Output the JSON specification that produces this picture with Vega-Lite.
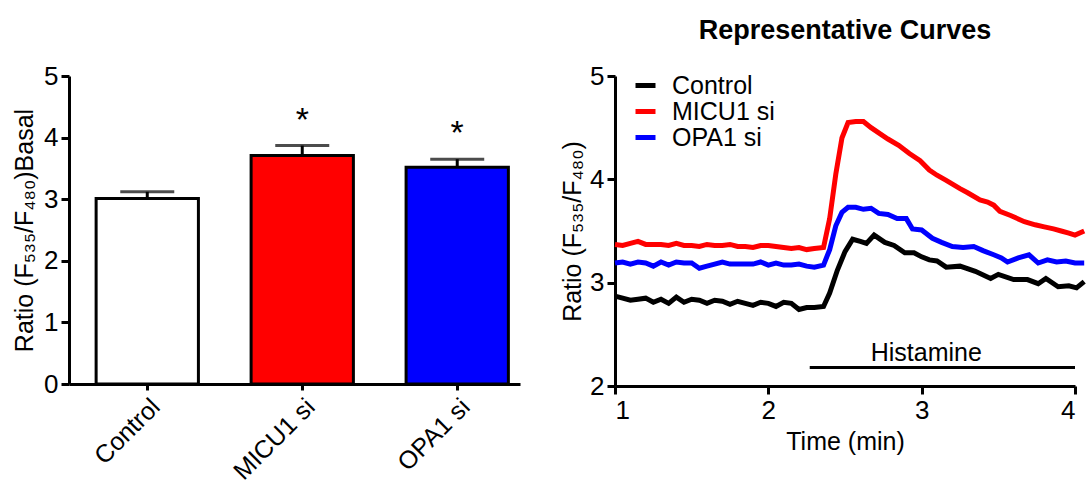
{
  "$schema": "https://vega.github.io/schema/vega-lite/v6.json",
  "background": "white",
  "padding": {"left": 12, "top": 17, "right": 5, "bottom": 2},
  "bounds": "flush",
  "spacing": 95,
  "resolve": {"scale": {"color": "independent", "fill": "independent"}, "legend": {"color": "independent", "fill": "independent"}},
  "config": {
    "font": "Liberation Sans",
    "view": {"stroke": null},
    "axis": {"domainColor": "black", "domainWidth": 3, "tickColor": "black", "tickWidth": 3, "tickSize": 8, "labelColor": "black", "labelFont": "Liberation Sans", "labelFontSize": 26, "titleFont": "Liberation Sans", "titleFontSize": 25, "titleFontWeight": "normal", "titleColor": "black", "grid": false, "labelPadding": 3}
  },
  "hconcat": [
    {
      "width": 451,
      "height": 308,
      "data": {"values": [
        {"group": "Control", "mean": 3.01, "upper": 3.12, "sig": ""},
        {"group": "MICU1 si", "mean": 3.71, "upper": 3.87, "sig": "*"},
        {"group": "OPA1 si", "mean": 3.52, "upper": 3.65, "sig": "*"}
      ]},
      "encoding": {
        "x": {"field": "group", "type": "nominal", "sort": null,
          "scale": {"paddingInner": 0.34, "paddingOuter": 0.125, "align": 0.7},
          "axis": {"title": null, "labelAngle": -45, "tickSize": 6, "labelPadding": 4, "labelFontSize": 25}}
      },
      "layer": [
        {"mark": {"type": "bar", "stroke": "black", "strokeWidth": 3},
         "encoding": {
           "y": {"field": "mean", "type": "quantitative", "scale": {"domain": [0, 5], "nice": false},
             "axis": {"title": "Ratio (F₅₃₅/F₄₈₀)Basal", "values": [0, 1, 2, 3, 4, 5], "format": "d", "titlePadding": 6}},
           "fill": {"field": "group", "type": "nominal", "scale": {"domain": ["Control", "MICU1 si", "OPA1 si"], "range": ["white", "#ff0000", "#0000ff"]}, "legend": null}
         }},
        {"mark": {"type": "rule", "strokeWidth": 3, "color": "black"},
         "encoding": {"y": {"field": "mean", "type": "quantitative"}, "y2": {"field": "upper"}}},
        {"mark": {"type": "tick", "thickness": 3, "size": 54, "color": "black"},
         "encoding": {"y": {"field": "upper", "type": "quantitative"}}},
        {"mark": {"type": "text", "fontSize": 34, "baseline": "alphabetic", "dy": -15, "color": "black"},
         "encoding": {"y": {"field": "upper", "type": "quantitative"}, "text": {"field": "sig"}}}
      ]
    },
    {
      "width": 460,
      "height": 310,
      "title": {"text": "Representative Curves", "fontSize": 27, "fontWeight": "bold", "anchor": "middle", "offset": 18, "color": "black", "font": "Liberation Sans"},
      "layer": [
        {
          "data": {"values": [
            {"series": "Control", "t": 1.00, "ratio": 2.87}, {"series": "Control", "t": 1.05, "ratio": 2.85}, {"series": "Control", "t": 1.10, "ratio": 2.83}, {"series": "Control", "t": 1.15, "ratio": 2.84}, {"series": "Control", "t": 1.20, "ratio": 2.85}, {"series": "Control", "t": 1.25, "ratio": 2.81}, {"series": "Control", "t": 1.30, "ratio": 2.84}, {"series": "Control", "t": 1.35, "ratio": 2.80}, {"series": "Control", "t": 1.40, "ratio": 2.86}, {"series": "Control", "t": 1.45, "ratio": 2.81}, {"series": "Control", "t": 1.50, "ratio": 2.84}, {"series": "Control", "t": 1.55, "ratio": 2.83}, {"series": "Control", "t": 1.60, "ratio": 2.80}, {"series": "Control", "t": 1.65, "ratio": 2.83}, {"series": "Control", "t": 1.70, "ratio": 2.82}, {"series": "Control", "t": 1.75, "ratio": 2.79}, {"series": "Control", "t": 1.80, "ratio": 2.82}, {"series": "Control", "t": 1.85, "ratio": 2.80}, {"series": "Control", "t": 1.90, "ratio": 2.78}, {"series": "Control", "t": 1.95, "ratio": 2.81}, {"series": "Control", "t": 2.00, "ratio": 2.80}, {"series": "Control", "t": 2.05, "ratio": 2.77}, {"series": "Control", "t": 2.10, "ratio": 2.81}, {"series": "Control", "t": 2.15, "ratio": 2.80}, {"series": "Control", "t": 2.20, "ratio": 2.74}, {"series": "Control", "t": 2.25, "ratio": 2.76}, {"series": "Control", "t": 2.30, "ratio": 2.76}, {"series": "Control", "t": 2.36, "ratio": 2.77}, {"series": "Control", "t": 2.40, "ratio": 2.90}, {"series": "Control", "t": 2.45, "ratio": 3.12}, {"series": "Control", "t": 2.50, "ratio": 3.30}, {"series": "Control", "t": 2.55, "ratio": 3.42}, {"series": "Control", "t": 2.60, "ratio": 3.40}, {"series": "Control", "t": 2.64, "ratio": 3.38}, {"series": "Control", "t": 2.69, "ratio": 3.46}, {"series": "Control", "t": 2.76, "ratio": 3.39}, {"series": "Control", "t": 2.82, "ratio": 3.36}, {"series": "Control", "t": 2.89, "ratio": 3.29}, {"series": "Control", "t": 2.95, "ratio": 3.29}, {"series": "Control", "t": 3.00, "ratio": 3.25}, {"series": "Control", "t": 3.05, "ratio": 3.22}, {"series": "Control", "t": 3.10, "ratio": 3.21}, {"series": "Control", "t": 3.16, "ratio": 3.15}, {"series": "Control", "t": 3.25, "ratio": 3.16}, {"series": "Control", "t": 3.35, "ratio": 3.11}, {"series": "Control", "t": 3.45, "ratio": 3.04}, {"series": "Control", "t": 3.50, "ratio": 3.08}, {"series": "Control", "t": 3.60, "ratio": 3.03}, {"series": "Control", "t": 3.69, "ratio": 3.03}, {"series": "Control", "t": 3.76, "ratio": 2.99}, {"series": "Control", "t": 3.81, "ratio": 3.04}, {"series": "Control", "t": 3.89, "ratio": 2.96}, {"series": "Control", "t": 3.96, "ratio": 2.97}, {"series": "Control", "t": 4.01, "ratio": 2.95}, {"series": "Control", "t": 4.06, "ratio": 3.01},
            {"series": "MICU1 si", "t": 1.00, "ratio": 3.37}, {"series": "MICU1 si", "t": 1.05, "ratio": 3.36}, {"series": "MICU1 si", "t": 1.10, "ratio": 3.38}, {"series": "MICU1 si", "t": 1.15, "ratio": 3.40}, {"series": "MICU1 si", "t": 1.20, "ratio": 3.37}, {"series": "MICU1 si", "t": 1.25, "ratio": 3.37}, {"series": "MICU1 si", "t": 1.30, "ratio": 3.37}, {"series": "MICU1 si", "t": 1.35, "ratio": 3.36}, {"series": "MICU1 si", "t": 1.40, "ratio": 3.38}, {"series": "MICU1 si", "t": 1.45, "ratio": 3.36}, {"series": "MICU1 si", "t": 1.50, "ratio": 3.36}, {"series": "MICU1 si", "t": 1.55, "ratio": 3.35}, {"series": "MICU1 si", "t": 1.60, "ratio": 3.37}, {"series": "MICU1 si", "t": 1.65, "ratio": 3.36}, {"series": "MICU1 si", "t": 1.70, "ratio": 3.36}, {"series": "MICU1 si", "t": 1.75, "ratio": 3.37}, {"series": "MICU1 si", "t": 1.80, "ratio": 3.35}, {"series": "MICU1 si", "t": 1.85, "ratio": 3.35}, {"series": "MICU1 si", "t": 1.90, "ratio": 3.34}, {"series": "MICU1 si", "t": 1.95, "ratio": 3.36}, {"series": "MICU1 si", "t": 2.00, "ratio": 3.36}, {"series": "MICU1 si", "t": 2.05, "ratio": 3.35}, {"series": "MICU1 si", "t": 2.10, "ratio": 3.34}, {"series": "MICU1 si", "t": 2.15, "ratio": 3.33}, {"series": "MICU1 si", "t": 2.20, "ratio": 3.34}, {"series": "MICU1 si", "t": 2.25, "ratio": 3.32}, {"series": "MICU1 si", "t": 2.30, "ratio": 3.33}, {"series": "MICU1 si", "t": 2.36, "ratio": 3.34}, {"series": "MICU1 si", "t": 2.40, "ratio": 3.62}, {"series": "MICU1 si", "t": 2.44, "ratio": 4.05}, {"series": "MICU1 si", "t": 2.48, "ratio": 4.40}, {"series": "MICU1 si", "t": 2.52, "ratio": 4.55}, {"series": "MICU1 si", "t": 2.57, "ratio": 4.56}, {"series": "MICU1 si", "t": 2.62, "ratio": 4.56}, {"series": "MICU1 si", "t": 2.67, "ratio": 4.50}, {"series": "MICU1 si", "t": 2.72, "ratio": 4.45}, {"series": "MICU1 si", "t": 2.78, "ratio": 4.39}, {"series": "MICU1 si", "t": 2.85, "ratio": 4.33}, {"series": "MICU1 si", "t": 2.92, "ratio": 4.25}, {"series": "MICU1 si", "t": 2.99, "ratio": 4.18}, {"series": "MICU1 si", "t": 3.05, "ratio": 4.09}, {"series": "MICU1 si", "t": 3.10, "ratio": 4.04}, {"series": "MICU1 si", "t": 3.16, "ratio": 3.99}, {"series": "MICU1 si", "t": 3.25, "ratio": 3.91}, {"series": "MICU1 si", "t": 3.30, "ratio": 3.87}, {"series": "MICU1 si", "t": 3.38, "ratio": 3.80}, {"series": "MICU1 si", "t": 3.43, "ratio": 3.78}, {"series": "MICU1 si", "t": 3.47, "ratio": 3.75}, {"series": "MICU1 si", "t": 3.51, "ratio": 3.69}, {"series": "MICU1 si", "t": 3.58, "ratio": 3.65}, {"series": "MICU1 si", "t": 3.67, "ratio": 3.59}, {"series": "MICU1 si", "t": 3.74, "ratio": 3.56}, {"series": "MICU1 si", "t": 3.80, "ratio": 3.54}, {"series": "MICU1 si", "t": 3.86, "ratio": 3.52}, {"series": "MICU1 si", "t": 3.91, "ratio": 3.50}, {"series": "MICU1 si", "t": 3.96, "ratio": 3.48}, {"series": "MICU1 si", "t": 4.00, "ratio": 3.46}, {"series": "MICU1 si", "t": 4.06, "ratio": 3.50},
            {"series": "OPA1 si", "t": 1.00, "ratio": 3.19}, {"series": "OPA1 si", "t": 1.05, "ratio": 3.20}, {"series": "OPA1 si", "t": 1.10, "ratio": 3.18}, {"series": "OPA1 si", "t": 1.15, "ratio": 3.20}, {"series": "OPA1 si", "t": 1.20, "ratio": 3.19}, {"series": "OPA1 si", "t": 1.25, "ratio": 3.16}, {"series": "OPA1 si", "t": 1.30, "ratio": 3.20}, {"series": "OPA1 si", "t": 1.35, "ratio": 3.17}, {"series": "OPA1 si", "t": 1.40, "ratio": 3.20}, {"series": "OPA1 si", "t": 1.45, "ratio": 3.19}, {"series": "OPA1 si", "t": 1.50, "ratio": 3.19}, {"series": "OPA1 si", "t": 1.55, "ratio": 3.14}, {"series": "OPA1 si", "t": 1.60, "ratio": 3.16}, {"series": "OPA1 si", "t": 1.65, "ratio": 3.18}, {"series": "OPA1 si", "t": 1.70, "ratio": 3.20}, {"series": "OPA1 si", "t": 1.75, "ratio": 3.18}, {"series": "OPA1 si", "t": 1.80, "ratio": 3.18}, {"series": "OPA1 si", "t": 1.85, "ratio": 3.18}, {"series": "OPA1 si", "t": 1.90, "ratio": 3.18}, {"series": "OPA1 si", "t": 1.95, "ratio": 3.20}, {"series": "OPA1 si", "t": 2.00, "ratio": 3.17}, {"series": "OPA1 si", "t": 2.05, "ratio": 3.19}, {"series": "OPA1 si", "t": 2.10, "ratio": 3.17}, {"series": "OPA1 si", "t": 2.15, "ratio": 3.17}, {"series": "OPA1 si", "t": 2.20, "ratio": 3.18}, {"series": "OPA1 si", "t": 2.25, "ratio": 3.16}, {"series": "OPA1 si", "t": 2.30, "ratio": 3.15}, {"series": "OPA1 si", "t": 2.36, "ratio": 3.17}, {"series": "OPA1 si", "t": 2.40, "ratio": 3.32}, {"series": "OPA1 si", "t": 2.44, "ratio": 3.55}, {"series": "OPA1 si", "t": 2.48, "ratio": 3.68}, {"series": "OPA1 si", "t": 2.52, "ratio": 3.73}, {"series": "OPA1 si", "t": 2.57, "ratio": 3.73}, {"series": "OPA1 si", "t": 2.62, "ratio": 3.71}, {"series": "OPA1 si", "t": 2.67, "ratio": 3.72}, {"series": "OPA1 si", "t": 2.72, "ratio": 3.67}, {"series": "OPA1 si", "t": 2.78, "ratio": 3.66}, {"series": "OPA1 si", "t": 2.84, "ratio": 3.62}, {"series": "OPA1 si", "t": 2.90, "ratio": 3.62}, {"series": "OPA1 si", "t": 2.94, "ratio": 3.52}, {"series": "OPA1 si", "t": 3.00, "ratio": 3.51}, {"series": "OPA1 si", "t": 3.07, "ratio": 3.43}, {"series": "OPA1 si", "t": 3.13, "ratio": 3.39}, {"series": "OPA1 si", "t": 3.20, "ratio": 3.35}, {"series": "OPA1 si", "t": 3.27, "ratio": 3.34}, {"series": "OPA1 si", "t": 3.34, "ratio": 3.35}, {"series": "OPA1 si", "t": 3.40, "ratio": 3.31}, {"series": "OPA1 si", "t": 3.47, "ratio": 3.27}, {"series": "OPA1 si", "t": 3.52, "ratio": 3.24}, {"series": "OPA1 si", "t": 3.56, "ratio": 3.20}, {"series": "OPA1 si", "t": 3.63, "ratio": 3.24}, {"series": "OPA1 si", "t": 3.70, "ratio": 3.27}, {"series": "OPA1 si", "t": 3.76, "ratio": 3.19}, {"series": "OPA1 si", "t": 3.82, "ratio": 3.22}, {"series": "OPA1 si", "t": 3.88, "ratio": 3.20}, {"series": "OPA1 si", "t": 3.94, "ratio": 3.21}, {"series": "OPA1 si", "t": 4.00, "ratio": 3.19}, {"series": "OPA1 si", "t": 4.06, "ratio": 3.19}
          ]},
          "mark": {"type": "line", "strokeWidth": 5, "clip": false},
          "encoding": {
            "x": {"field": "t", "type": "quantitative", "scale": {"domain": [1, 4], "nice": false},
              "axis": {"title": "Time (min)", "values": [1, 2, 3, 4], "format": "d", "titlePadding": 6}},
            "y": {"field": "ratio", "type": "quantitative", "scale": {"domain": [2, 5], "nice": false},
              "axis": {"title": "Ratio (F₅₃₅/F₄₈₀)", "values": [2, 3, 4, 5], "format": "d", "titlePadding": 4}},
            "color": {"field": "series", "type": "nominal", "sort": null,
              "scale": {"domain": ["Control", "MICU1 si", "OPA1 si"], "range": ["black", "#ff0000", "#0000ff"]},
              "legend": {"title": null, "orient": "none", "legendX": 18, "legendY": -3, "padding": 0, "symbolType": "stroke", "symbolStrokeWidth": 5, "symbolSize": 400, "labelFontSize": 25, "labelColor": "black", "labelFont": "Liberation Sans", "rowPadding": -3.5, "labelOffset": 14}}
          }
        },
        {
          "data": {"values": [{"start": 2.27, "end": 4.0, "level": 2.18, "mid": 3.03, "label": "Histamine"}]},
          "mark": {"type": "rule", "strokeWidth": 3, "color": "black"},
          "encoding": {"x": {"field": "start", "type": "quantitative"}, "x2": {"field": "end"}, "y": {"field": "level", "type": "quantitative"}}
        },
        {
          "data": {"values": [{"start": 2.27, "end": 4.0, "level": 2.18, "mid": 3.03, "label": "Histamine"}]},
          "mark": {"type": "text", "fontSize": 25, "baseline": "alphabetic", "dy": -6, "color": "black", "font": "Liberation Sans"},
          "encoding": {"x": {"field": "mid", "type": "quantitative"}, "y": {"field": "level", "type": "quantitative"}, "text": {"field": "label"}}
        }
      ]
    }
  ]
}
